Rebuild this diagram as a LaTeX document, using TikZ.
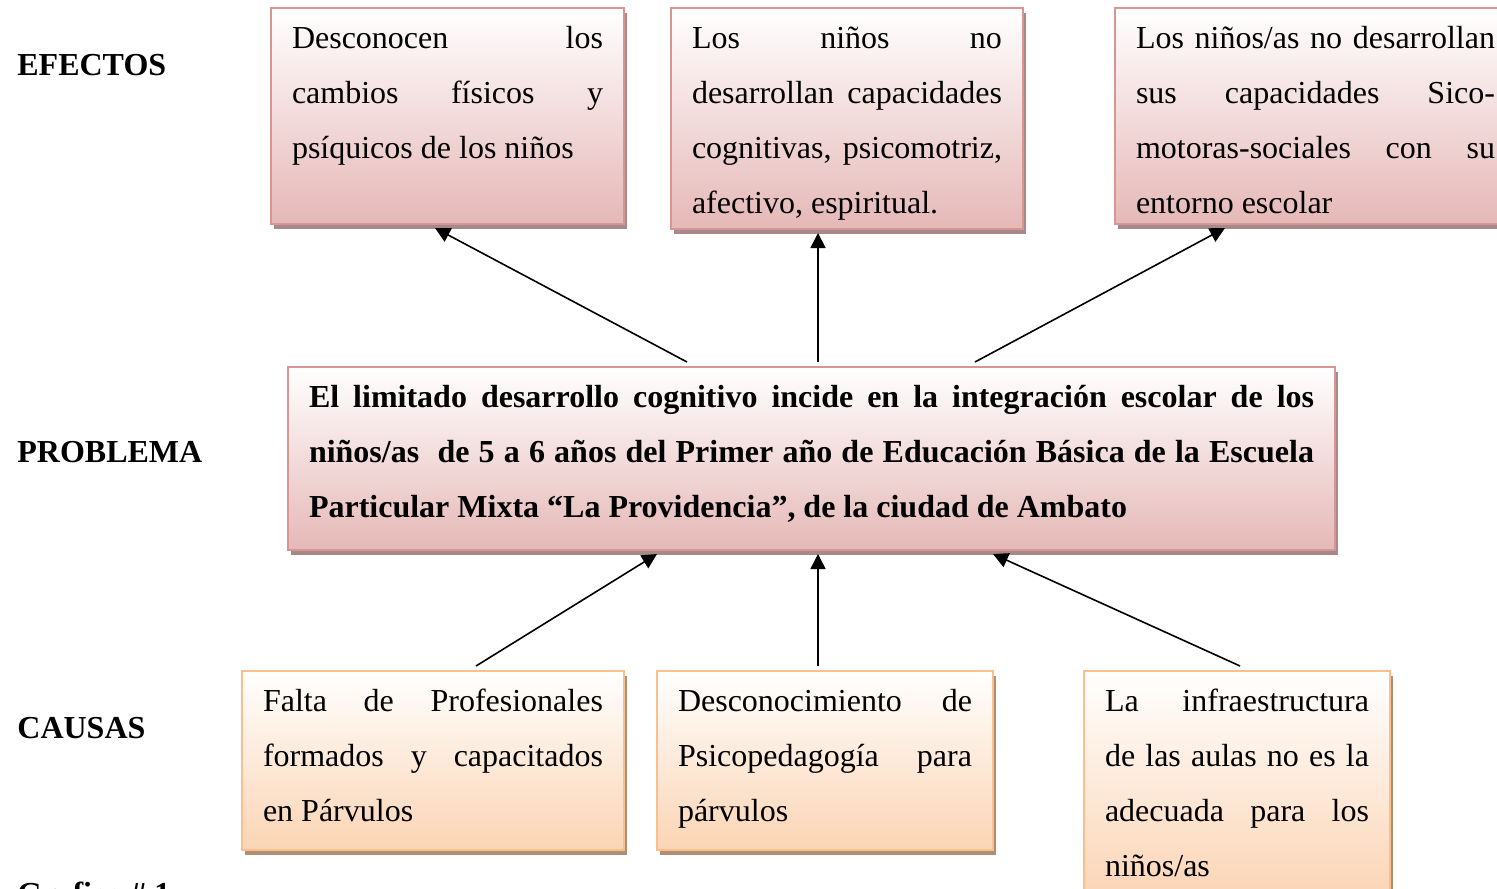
\documentclass[tikz,border=0pt]{standalone}
\usepackage{fontspec}
\setmainfont{Liberation Serif}
\usetikzlibrary{arrows.meta,shadows}

\definecolor{efborde}{HTML}{D99594}
\definecolor{effondo}{HTML}{E5B8B7}
\definecolor{efsombra}{HTML}{A68A8A}
\definecolor{caborde}{HTML}{FABF8F}
\definecolor{cafondo}{HTML}{FBD4B4}
\definecolor{casombra}{HTML}{B08E74}

% renglon justificado a todo el ancho
\newcommand{\linea}[1]{\makebox[\linewidth][s]{#1}\\}
\newcommand{\textocaja}[3]{\parbox[c][#2][t]{#1}{\strut #3}}

\tikzset{
  caja/.style={anchor=north west, inner xsep=10.5pt, inner ysep=1pt, outer sep=0pt,
    line width=1.2pt, align=left, font=\fontsize{16}{27.5}\selectfont},
  efecto/.style={caja, draw=efborde, top color=white, bottom color=effondo,
    general shadow={fill=efsombra, shadow xshift=1.5pt, shadow yshift=-2.5pt}},
  causa/.style={caja, draw=caborde, top color=white, bottom color=cafondo,
    general shadow={fill=casombra, shadow xshift=1.5pt, shadow yshift=-2.5pt}},
  titulo/.style={anchor=west, inner sep=0pt, font=\fontsize{16}{19}\selectfont\bfseries},
  flecha/.style={-{Triangle[length=7.5pt,width=7.5pt]}, line width=0.8pt}
}

\begin{document}
\begin{tikzpicture}[x=0.5pt,y=-0.5pt]
        \useasboundingbox (0,0) rectangle (1497,888) ;
        \clip (0,0) rectangle (1497,888) ;
        % titulos
        \node[titulo] (tefectos) at (17,65) {EFECTOS} ;
        \node[titulo] (tproblema) at (17,452) {PROBLEMA} ;
        \node[titulo] (tcausas) at (17,728) {CAUSAS} ;
        \node[titulo,anchor=base west] (grafico) at (17,904) {Grafico \# 1} ;
        % efectos
        \node[efecto] (e1) at (271,8) {\textocaja{155.5pt}{106pt}{%
          \linea{Desconocen los}\linea{cambios físicos y}psíquicos de los niños}} ;
        \node[efecto] (e2) at (671,8) {\textocaja{155pt}{108.5pt}{%
          \linea{Los niños no}\linea{desarrollan capacidades}\linea{cognitivas, psicomotriz,}afectivo, espiritual.}} ;
        \node[efecto] (e3) at (1115,8) {\textocaja{179.5pt}{106pt}{%
          \linea{Los niños/as no desarrollan}\linea{sus capacidades Sico-}\linea{motoras-sociales con su}entorno escolar}} ;
        % problema
        \node[efecto,font=\fontsize{16}{27.5}\selectfont\bfseries] (prob) at (288,367) {\textocaja{502.5pt}{89.5pt}{%
          \linea{El limitado desarrollo cognitivo incide en la integración escolar de los}%
          \linea{niños/as\ \ de 5 a 6 años del Primer año de Educación Básica de la Escuela}%
          Particular Mixta “La Providencia”, de la ciudad de Ambato}} ;
        % causas
        \node[causa] (c1) at (242,671) {\textocaja{170pt}{87.5pt}{%
          \linea{Falta de Profesionales}\linea{formados y capacitados}en Párvulos}} ;
        \node[causa] (c2) at (657,671) {\textocaja{147pt}{87.5pt}{%
          \linea{Desconocimiento de}\linea{Psicopedagogía para}párvulos}} ;
        \node[causa] (c3) at (1084,671) {\textocaja{132pt}{113pt}{%
          \linea{La infraestructura}\linea{de las aulas no es la}\linea{adecuada para los}niños/as}} ;
        % flechas
        \draw[flecha] ([xshift=-62.25pt,yshift=2.5pt]prob.north) -- ([xshift=-6.25pt,yshift=-2pt]e1.south) ;
        \draw[flecha] ([xshift=3.25pt,yshift=2.5pt]prob.north) -- ([xshift=-14.5pt,yshift=-2pt]e2.south) ;
        \draw[flecha] ([xshift=81.75pt,yshift=2.5pt]prob.north) -- ([xshift=-45.25pt,yshift=-2pt]e3.south) ;
        \draw[flecha] ([xshift=21.5pt,yshift=2.5pt]c1.north) -- ([xshift=-77.25pt,yshift=-2pt]prob.south) ;
        \draw[flecha] ([xshift=-3.5pt,yshift=2.5pt]c2.north) -- ([xshift=3.25pt,yshift=-2pt]prob.south) ;
        \draw[flecha] ([xshift=1.5pt,yshift=2.5pt]c3.north) -- ([xshift=90.75pt,yshift=-2pt]prob.south) ;
      \end{tikzpicture}
\end{document}
